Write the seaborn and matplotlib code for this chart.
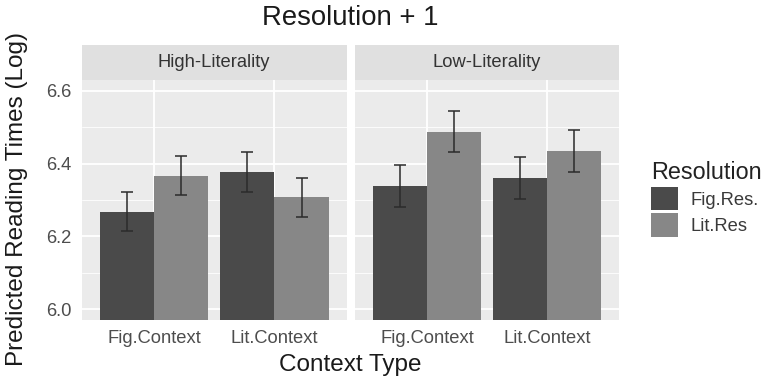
import matplotlib
matplotlib.use("Agg")
import matplotlib.pyplot as plt
import seaborn as sns
import pandas as pd
import numpy as np

# Model estimates of log reading times at the resolution region + 1
literality = ["High-Literality", "Low-Literality"]
context = ["Fig.Context", "Lit.Context"]
resolution = ["Fig.Res.", "Lit.Res"]

high_fig_res = [6.268, 6.378]   # Fig.Context, Lit.Context
high_lit_res = [6.367, 6.307]
low_fig_res = [6.339, 6.361]
low_lit_res = [6.488, 6.435]

high_fig_se = [0.054, 0.055]
high_lit_se = [0.053, 0.053]
low_fig_se = [0.057, 0.058]
low_lit_se = [0.057, 0.057]

yticks = [6.0, 6.2, 6.4, 6.6]
title = "Resolution + 1"

rows = []
for lit, fr, lr, fse, lse in [
    (literality[0], high_fig_res, high_lit_res, high_fig_se, high_lit_se),
    (literality[1], low_fig_res, low_lit_res, low_fig_se, low_lit_se),
]:
    for i, ctx in enumerate(context):
        rows.append(dict(Literality=lit, Context=ctx, Resolution=resolution[0], rt=fr[i], se=fse[i]))
        rows.append(dict(Literality=lit, Context=ctx, Resolution=resolution[1], rt=lr[i], se=lse[i]))
df = pd.DataFrame(rows)

sns.set_theme(style="darkgrid")
plt.rcParams["font.family"] = ["Liberation Sans", "DejaVu Sans"]

W, H = 765, 378
fig = plt.figure(figsize=(W / 100, H / 100), dpi=100)
fig.patch.set_facecolor("white")

def fx(px):
    return px / W

def fy(px):
    return 1 - px / H

panel_top, panel_bot = 80, 320
strip_top = 45
panels = [(81.7, 346.7), (355.0, 619.0)]
colors = {"Fig.Res.": "#4a4a4a", "Lit.Res": "#878787"}

axes = []
for k, (lit, (x0, x1)) in enumerate(zip(literality, panels)):
    ax = fig.add_axes([fx(x0), fy(panel_bot), fx(x1) - fx(x0), fy(panel_top) - fy(panel_bot)])
    sub = df[df.Literality == lit]
    sns.barplot(data=sub, x="Context", y="rt", hue="Resolution", order=context,
                hue_order=resolution, palette=colors, errorbar=None, width=0.9,
                gap=0, saturation=1, ax=ax, legend=(k == 0), linewidth=0)
    # error bars placed at each bar's centre
    for cont, res in zip(ax.containers, resolution):
        for bar, ctx in zip(cont, context):
            r = sub[(sub.Context == ctx) & (sub.Resolution == res)].iloc[0]
            xc = bar.get_x() + bar.get_width() / 2
            ax.errorbar(xc, r.rt, yerr=r.se, fmt="none", ecolor="#2b2b2b",
                        elinewidth=1.1, capsize=4.5, capthick=1.1, zorder=5)
    ax.set_xlim(-0.6, 1.6)
    ax.set_ylim(5.97, 6.63)
    ax.set_facecolor("#ebebeb")
    ax.set_yticks(yticks)
    ax.set_yticks([6.1, 6.3, 6.5], minor=True)
    ax.grid(which="major", color="white", linewidth=1.3)
    ax.grid(which="minor", axis="y", color="white", linewidth=0.6)
    ax.set_axisbelow(True)
    ax.set_xlabel("")
    ax.set_ylabel("")
    for s in ax.spines.values():
        s.set_visible(False)
    ax.tick_params(axis="both", which="major", length=5, width=1, color="#333333",
                   labelsize=13.2, labelcolor="#4d4d4d", pad=2.5)
    ax.tick_params(axis="both", which="minor", length=0)
    if k == 1:
        ax.tick_params(axis="y", labelleft=False, length=0)
    else:
        ax.set_yticklabels([f"{t:.1f}" for t in yticks])
    # facet strip
    sax = fig.add_axes([fx(x0), fy(panel_top), fx(x1) - fx(x0), fy(strip_top) - fy(panel_top)])
    sax.set_facecolor("#e0e0e0")
    sax.set_xticks([])
    sax.set_yticks([])
    for s in sax.spines.values():
        s.set_visible(False)
    sax.text(0.5, 0.5, lit, ha="center", va="center", fontsize=13.2, color="#333333",
             transform=sax.transAxes)
    axes.append(ax)

handles, labels = axes[0].get_legend_handles_labels()
axes[0].get_legend().remove()
leg = fig.legend(handles, labels, title="Resolution", loc="upper left",
                 bbox_to_anchor=(fx(642), fy(152)), frameon=False, fontsize=13.2,
                 title_fontsize=16.8, handlelength=1.45, handleheight=1.6,
                 labelspacing=0.15, handletextpad=0.7, borderpad=0, alignment="left")
for t in leg.get_texts():
    t.set_color("#3a3a3a")
leg.get_title().set_color("#222222")

fig.text(fx(350), fy(18), title, ha="center", va="center", fontsize=19.8, color="#1a1a1a")
fig.text(fx(350), fy(365), "Context Type", ha="center", va="center", fontsize=17.5, color="#1a1a1a")
fig.text(fx(17), fy(199), "Predicted Reading Times (Log)", ha="center", va="center",
         rotation=90, fontsize=17.5, color="#1a1a1a")

fig.savefig("out.png", dpi=100)
